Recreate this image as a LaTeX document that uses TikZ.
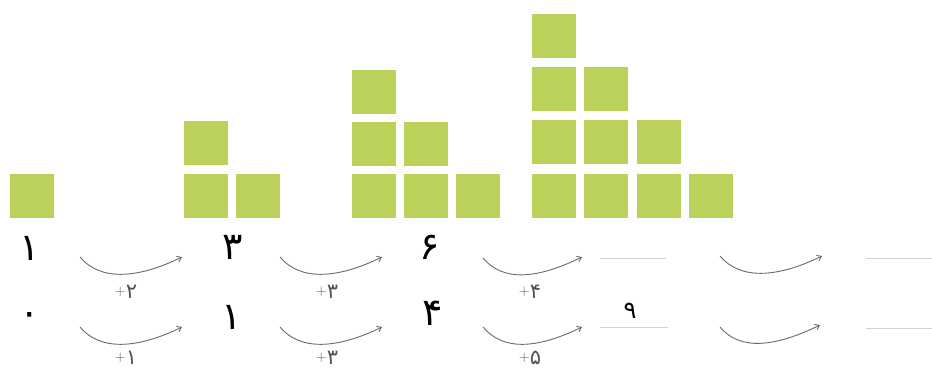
\documentclass[tikz,border=0pt]{standalone}
\usepackage{fontspec}
\newfontfamily\fadigits[Script=Arabic]{DejaVu Sans}
\usetikzlibrary{arrows.meta}
\newcommand{\plussign}{\raisebox{3.5pt}{\rmfamily\fontsize{15}{17}\selectfont+}}

\begin{document}
\begin{tikzpicture}[x=1pt,y=-1pt,>={Straight Barb[length=4pt,width=6pt]}]
            \definecolor{tmpSq}{RGB}{186,210,90}
            \definecolor{tmpArc}{RGB}{105,105,105}
            \definecolor{tmpLine}{RGB}{210,210,210}
            \tikzset{
              sq/.style={fill=tmpSq,minimum size=44pt,inner sep=0pt},
              num/.style={font=\fadigits\fontsize{38}{40}\selectfont,inner sep=0pt},
              inc/.style={font=\fadigits\fontsize{21}{23}\selectfont,inner sep=0pt,text=tmpArc!80!black},
              incarrow/.style={draw=tmpArc,line width=0.9pt,->},
              blankline/.style={draw=tmpLine,line width=0.8pt}
            }
            \useasboundingbox (0,0) rectangle (932,370);
            % squares
            \node[sq] (s1a) at (31.5,196) {};
            \node[sq] (s2a) at (206,196) {};
            \node[sq] (s2b) at (258,196) {};
            \node[sq] (s2c) at (206,143) {};
            \node[sq] (s3a) at (374,196) {};
            \node[sq] (s3b) at (426,196) {};
            \node[sq] (s3c) at (478,196) {};
            \node[sq] (s3d) at (374,144) {};
            \node[sq] (s3e) at (426,144) {};
            \node[sq] (s3f) at (374,91.5) {};
            \node[sq] (s4a) at (554,196) {};
            \node[sq] (s4b) at (606,196) {};
            \node[sq] (s4c) at (659,196) {};
            \node[sq] (s4d) at (710.5,196) {};
            \node[sq] (s4e) at (554,141.5) {};
            \node[sq] (s4f) at (606,141.5) {};
            \node[sq] (s4g) at (659,141.5) {};
            \node[sq] (s4h) at (554,88.5) {};
            \node[sq] (s4i) at (606,88.5) {};
            \node[sq] (s4j) at (554,36) {};
            % first row of numbers
            \node[num] (n1) at (30,248) {۱};
            \node[num] (n2) at (233,247) {۳};
            \node[num] (n3) at (430,247) {۶};
            \coordinate (b1s) at (600,258);
            \coordinate (b1e) at (666,258);
            \coordinate (b2s) at (866,258);
            \coordinate (b2e) at (932,258);
            \draw[blankline] (b1s) -- (b1e);
            \draw[blankline] (b2s) -- (b2e);
            \coordinate (a1s) at (80,257);   \coordinate (a1e) at (182,257);
            \coordinate (a2s) at (280,257);  \coordinate (a2e) at (382,257);
            \coordinate (a3s) at (483,258);  \coordinate (a3e) at (582,257);
            \coordinate (a4s) at (720,256);  \coordinate (a4e) at (822,256);
            \draw[incarrow] (a1s) .. controls +(20,24) and +(-45,22) .. (a1e);
            \draw[incarrow] (a2s) .. controls +(20,24) and +(-45,22) .. (a2e);
            \draw[incarrow] (a3s) .. controls +(20,24) and +(-45,22) .. (a3e);
            \draw[incarrow] (a4s) .. controls +(20,24) and +(-45,22) .. (a4e);
            \node[inc] (d1) at (126,292) {\plussign۲};
            \node[inc] (d2) at (327,292) {\plussign۳};
            \node[inc] (d3) at (530,292) {\plussign۴};
            % second row of numbers
            \node[num] (m1) at (30,319) {۰};
            \node[num] (m2) at (232,317) {۱};
            \node[num] (m3) at (433,313) {۴};
            \node[num,font=\fadigits\fontsize{24}{26}\selectfont] (m4) at (630,311) {۹};
            \coordinate (c1s) at (600,327);
            \coordinate (c1e) at (668,327);
            \coordinate (c2s) at (866,328);
            \coordinate (c2e) at (932,328);
            \draw[blankline] (c1s) -- (c1e);
            \draw[blankline] (c2s) -- (c2e);
            \coordinate (e1s) at (80,327);   \coordinate (e1e) at (182,327);
            \coordinate (e2s) at (280,327);  \coordinate (e2e) at (382,327);
            \coordinate (e3s) at (483,327);  \coordinate (e3e) at (582,327);
            \coordinate (e4s) at (720,327);  \coordinate (e4e) at (820,325);
            \draw[incarrow] (e1s) .. controls +(20,24) and +(-45,22) .. (e1e);
            \draw[incarrow] (e2s) .. controls +(20,24) and +(-45,22) .. (e2e);
            \draw[incarrow] (e3s) .. controls +(20,24) and +(-45,22) .. (e3e);
            \draw[incarrow] (e4s) .. controls +(20,24) and +(-45,22) .. (e4e);
            \node[inc] (f1) at (126,358) {\plussign۱};
            \node[inc] (f2) at (327,358) {\plussign۳};
            \node[inc] (f3) at (530,358) {\plussign۵};
        \end{tikzpicture}
\end{document}
